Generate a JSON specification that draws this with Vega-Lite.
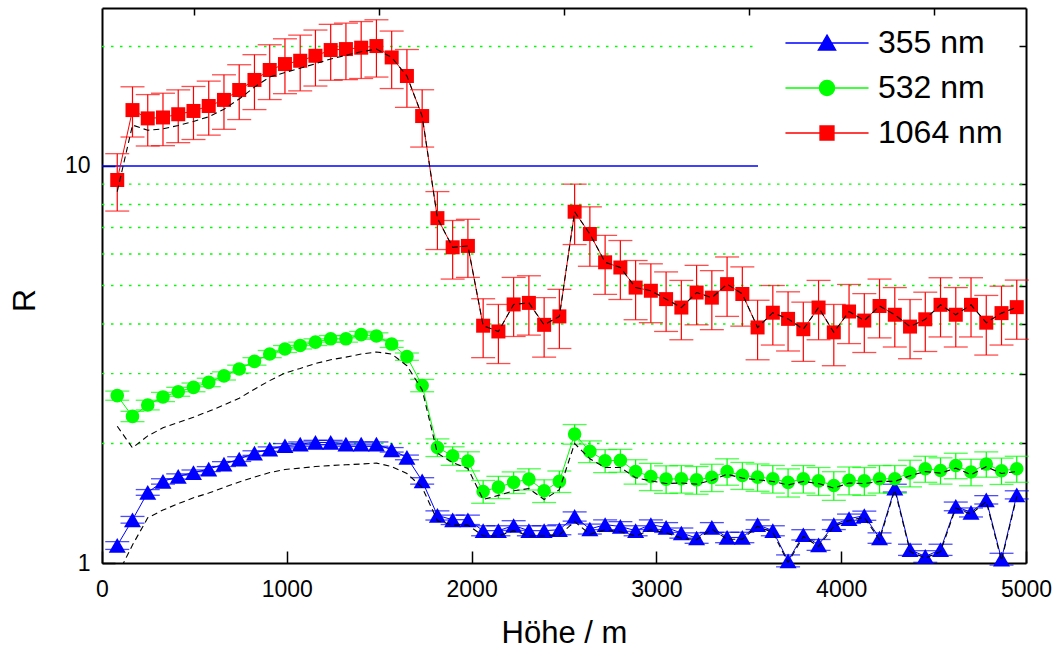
{
  "$schema": "https://vega.github.io/schema/vega-lite/v6.json",
  "width": 924,
  "height": 555,
  "autosize": {"type": "none"},
  "padding": {"left": 102, "top": 8, "right": 27, "bottom": 86},
  "background": "white",
  "config": {
    "font": "Liberation Sans",
    "view": {"stroke": null},
    "axis": {"grid": false, "labelColor": "black", "titleColor": "black", "tickColor": "black", "domainColor": "black"},
    "legend": {
      "orient": "none", "legendX": 709, "legendY": 19, "padding": 0,
      "labelFontSize": 32, "labelFont": "Liberation Sans", "labelColor": "black", "labelLimit": 400,
      "symbolSize": 900, "symbolStrokeWidth": 1.5, "symbolOpacity": 1, "labelOffset": 35, "rowPadding": 13
    }
  },
  "datasets": {
    "grid": [
      {"g": 2, "x1": 0, "x2": 4980}, {"g": 3, "x1": 0, "x2": 4980}, {"g": 4, "x1": 0, "x2": 4980},
      {"g": 5, "x1": 0, "x2": 4980}, {"g": 6, "x1": 0, "x2": 4980}, {"g": 7, "x1": 0, "x2": 4980},
      {"g": 8, "x1": 0, "x2": 4980}, {"g": 9, "x1": 0, "x2": 4980}, {"g": 20, "x1": 0, "x2": 3550}
    ],
    "ref": [{"g": 10, "x1": 0, "x2": 3550}],
    "pts": [
      {"s":"355 nm","x":82.5,"y":1.107,"e":0.025,"f":0.93},
      {"s":"355 nm","x":165,"y":1.285,"e":0.025,"f":1.11},
      {"s":"355 nm","x":247.5,"y":1.506,"e":0.025,"f":1.30},
      {"s":"355 nm","x":330,"y":1.605,"e":0.025,"f":1.36},
      {"s":"355 nm","x":412.5,"y":1.652,"e":0.025,"f":1.41},
      {"s":"355 nm","x":495,"y":1.69,"e":0.025,"f":1.46},
      {"s":"355 nm","x":577.5,"y":1.724,"e":0.025,"f":1.50},
      {"s":"355 nm","x":660,"y":1.775,"e":0.025,"f":1.55},
      {"s":"355 nm","x":742.5,"y":1.827,"e":0.025,"f":1.60},
      {"s":"355 nm","x":825,"y":1.892,"e":0.025,"f":1.645},
      {"s":"355 nm","x":907.5,"y":1.936,"e":0.025,"f":1.69},
      {"s":"355 nm","x":990,"y":1.974,"e":0.025,"f":1.72},
      {"s":"355 nm","x":1072.5,"y":1.993,"e":0.025,"f":1.734},
      {"s":"355 nm","x":1155,"y":2.012,"e":0.025,"f":1.75},
      {"s":"355 nm","x":1237.5,"y":2.012,"e":0.025,"f":1.76},
      {"s":"355 nm","x":1320,"y":1.993,"e":0.025,"f":1.768},
      {"s":"355 nm","x":1402.5,"y":1.993,"e":0.025,"f":1.775},
      {"s":"355 nm","x":1485,"y":1.993,"e":0.025,"f":1.785},
      {"s":"355 nm","x":1567.5,"y":1.928,"e":0.025,"f":1.75},
      {"s":"355 nm","x":1650,"y":1.845,"e":0.025,"f":1.68},
      {"s":"355 nm","x":1732.5,"y":1.61,"e":0.03,"f":1.55},
      {"s":"355 nm","x":1815,"y":1.318,"e":0.035,"f":1.278},
      {"s":"355 nm","x":1897.5,"y":1.285,"e":0.035,"f":1.246},
      {"s":"355 nm","x":1980,"y":1.285,"e":0.035,"f":1.246},
      {"s":"355 nm","x":2062.5,"y":1.206,"e":0.035,"f":1.170},
      {"s":"355 nm","x":2145,"y":1.206,"e":0.035,"f":1.170},
      {"s":"355 nm","x":2227.5,"y":1.243,"e":0.035,"f":1.206},
      {"s":"355 nm","x":2310,"y":1.206,"e":0.035,"f":1.170},
      {"s":"355 nm","x":2392.5,"y":1.206,"e":0.035,"f":1.170},
      {"s":"355 nm","x":2475,"y":1.213,"e":0.035,"f":1.177},
      {"s":"355 nm","x":2557.5,"y":1.31,"e":0.035,"f":1.271},
      {"s":"355 nm","x":2640,"y":1.218,"e":0.035,"f":1.181},
      {"s":"355 nm","x":2722.5,"y":1.249,"e":0.035,"f":1.212},
      {"s":"355 nm","x":2805,"y":1.236,"e":0.035,"f":1.199},
      {"s":"355 nm","x":2887.5,"y":1.206,"e":0.035,"f":1.170},
      {"s":"355 nm","x":2970,"y":1.249,"e":0.035,"f":1.212},
      {"s":"355 nm","x":3052.5,"y":1.229,"e":0.035,"f":1.192},
      {"s":"355 nm","x":3135,"y":1.19,"e":0.035,"f":1.154},
      {"s":"355 nm","x":3217.5,"y":1.156,"e":0.035,"f":1.144},
      {"s":"355 nm","x":3300,"y":1.229,"e":0.035,"f":1.217},
      {"s":"355 nm","x":3382.5,"y":1.16,"e":0.035,"f":1.148},
      {"s":"355 nm","x":3465,"y":1.16,"e":0.035,"f":1.148},
      {"s":"355 nm","x":3547.5,"y":1.249,"e":0.035,"f":1.237},
      {"s":"355 nm","x":3630,"y":1.206,"e":0.035,"f":1.194},
      {"s":"355 nm","x":3712.5,"y":1.013,"e":0.035,"f":1.003},
      {"s":"355 nm","x":3795,"y":1.178,"e":0.035,"f":1.166},
      {"s":"355 nm","x":3877.5,"y":1.111,"e":0.035,"f":1.100},
      {"s":"355 nm","x":3960,"y":1.249,"e":0.035,"f":1.237},
      {"s":"355 nm","x":4042.5,"y":1.293,"e":0.035,"f":1.280},
      {"s":"355 nm","x":4125,"y":1.316,"e":0.035,"f":1.303},
      {"s":"355 nm","x":4207.5,"y":1.156,"e":0.035,"f":1.144},
      {"s":"355 nm","x":4290,"y":1.544,"e":0.035,"f":1.529},
      {"s":"355 nm","x":4372.5,"y":1.08,"e":0.035,"f":1.069},
      {"s":"355 nm","x":4455,"y":1.039,"e":0.035,"f":1.029},
      {"s":"355 nm","x":4537.5,"y":1.08,"e":0.035,"f":1.069},
      {"s":"355 nm","x":4620,"y":1.389,"e":0.035,"f":1.375},
      {"s":"355 nm","x":4702.5,"y":1.341,"e":0.035,"f":1.328},
      {"s":"355 nm","x":4785,"y":1.443,"e":0.035,"f":1.429},
      {"s":"355 nm","x":4867.5,"y":1.023,"e":0.035,"f":1.013},
      {"s":"355 nm","x":4950,"y":1.485,"e":0.035,"f":1.470},
      {"s":"532 nm","x":82.5,"y":2.64,"e":0.07,"f":2.21},
      {"s":"532 nm","x":165,"y":2.34,"e":0.07,"f":1.95},
      {"s":"532 nm","x":247.5,"y":2.50,"e":0.07,"f":2.09},
      {"s":"532 nm","x":330,"y":2.62,"e":0.07,"f":2.19},
      {"s":"532 nm","x":412.5,"y":2.70,"e":0.07,"f":2.26},
      {"s":"532 nm","x":495,"y":2.77,"e":0.07,"f":2.33},
      {"s":"532 nm","x":577.5,"y":2.85,"e":0.07,"f":2.41},
      {"s":"532 nm","x":660,"y":2.96,"e":0.07,"f":2.50},
      {"s":"532 nm","x":742.5,"y":3.08,"e":0.07,"f":2.60},
      {"s":"532 nm","x":825,"y":3.22,"e":0.07,"f":2.74},
      {"s":"532 nm","x":907.5,"y":3.36,"e":0.07,"f":2.88},
      {"s":"532 nm","x":990,"y":3.46,"e":0.07,"f":3.01},
      {"s":"532 nm","x":1072.5,"y":3.53,"e":0.07,"f":3.09},
      {"s":"532 nm","x":1155,"y":3.60,"e":0.07,"f":3.18},
      {"s":"532 nm","x":1237.5,"y":3.67,"e":0.07,"f":3.25},
      {"s":"532 nm","x":1320,"y":3.67,"e":0.07,"f":3.30},
      {"s":"532 nm","x":1402.5,"y":3.76,"e":0.07,"f":3.36},
      {"s":"532 nm","x":1485,"y":3.73,"e":0.07,"f":3.40},
      {"s":"532 nm","x":1567.5,"y":3.56,"e":0.07,"f":3.36},
      {"s":"532 nm","x":1650,"y":3.31,"e":0.07,"f":3.14},
      {"s":"532 nm","x":1732.5,"y":2.80,"e":0.1,"f":2.73},
      {"s":"532 nm","x":1815,"y":1.954,"e":0.1,"f":1.89},
      {"s":"532 nm","x":1897.5,"y":1.862,"e":0.1,"f":1.79},
      {"s":"532 nm","x":1980,"y":1.806,"e":0.1,"f":1.73},
      {"s":"532 nm","x":2062.5,"y":1.514,"e":0.1,"f":1.445},
      {"s":"532 nm","x":2145,"y":1.553,"e":0.1,"f":1.48},
      {"s":"532 nm","x":2227.5,"y":1.596,"e":0.1,"f":1.52},
      {"s":"532 nm","x":2310,"y":1.627,"e":0.1,"f":1.54},
      {"s":"532 nm","x":2392.5,"y":1.52,"e":0.1,"f":1.445},
      {"s":"532 nm","x":2475,"y":1.605,"e":0.1,"f":1.53},
      {"s":"532 nm","x":2557.5,"y":2.112,"e":0.12,"f":2.0},
      {"s":"532 nm","x":2640,"y":1.91,"e":0.12,"f":1.83},
      {"s":"532 nm","x":2722.5,"y":1.81,"e":0.12,"f":1.74},
      {"s":"532 nm","x":2805,"y":1.813,"e":0.12,"f":1.74},
      {"s":"532 nm","x":2887.5,"y":1.70,"e":0.12,"f":1.64},
      {"s":"532 nm","x":2970,"y":1.652,"e":0.13,"f":1.61},
      {"s":"532 nm","x":3052.5,"y":1.627,"e":0.13,"f":1.586},
      {"s":"532 nm","x":3135,"y":1.63,"e":0.13,"f":1.59},
      {"s":"532 nm","x":3217.5,"y":1.62,"e":0.13,"f":1.58},
      {"s":"532 nm","x":3300,"y":1.643,"e":0.13,"f":1.615},
      {"s":"532 nm","x":3382.5,"y":1.70,"e":0.13,"f":1.673},
      {"s":"532 nm","x":3465,"y":1.662,"e":0.13,"f":1.636},
      {"s":"532 nm","x":3547.5,"y":1.646,"e":0.13,"f":1.62},
      {"s":"532 nm","x":3630,"y":1.63,"e":0.13,"f":1.605},
      {"s":"532 nm","x":3712.5,"y":1.596,"e":0.13,"f":1.572},
      {"s":"532 nm","x":3795,"y":1.63,"e":0.13,"f":1.605},
      {"s":"532 nm","x":3877.5,"y":1.61,"e":0.13,"f":1.585},
      {"s":"532 nm","x":3960,"y":1.568,"e":0.13,"f":1.544},
      {"s":"532 nm","x":4042.5,"y":1.615,"e":0.13,"f":1.59},
      {"s":"532 nm","x":4125,"y":1.61,"e":0.13,"f":1.585},
      {"s":"532 nm","x":4207.5,"y":1.63,"e":0.13,"f":1.605},
      {"s":"532 nm","x":4290,"y":1.63,"e":0.13,"f":1.605},
      {"s":"532 nm","x":4372.5,"y":1.685,"e":0.13,"f":1.659},
      {"s":"532 nm","x":4455,"y":1.727,"e":0.13,"f":1.70},
      {"s":"532 nm","x":4537.5,"y":1.71,"e":0.13,"f":1.684},
      {"s":"532 nm","x":4620,"y":1.76,"e":0.13,"f":1.733},
      {"s":"532 nm","x":4702.5,"y":1.695,"e":0.13,"f":1.669},
      {"s":"532 nm","x":4785,"y":1.775,"e":0.13,"f":1.748},
      {"s":"532 nm","x":4867.5,"y":1.707,"e":0.13,"f":1.681},
      {"s":"532 nm","x":4950,"y":1.727,"e":0.13,"f":1.70},
      {"s":"1064 nm","x":82.5,"y":9.22,"e":1.52,"f":8.62},
      {"s":"1064 nm","x":165,"y":13.83,"e":2.0,"f":12.68},
      {"s":"1064 nm","x":247.5,"y":13.18,"e":1.95,"f":12.3},
      {"s":"1064 nm","x":330,"y":13.25,"e":2.0,"f":12.4},
      {"s":"1064 nm","x":412.5,"y":13.5,"e":2.05,"f":12.65},
      {"s":"1064 nm","x":495,"y":13.76,"e":2.1,"f":12.95},
      {"s":"1064 nm","x":577.5,"y":14.16,"e":2.2,"f":13.3},
      {"s":"1064 nm","x":660,"y":14.67,"e":2.3,"f":13.9},
      {"s":"1064 nm","x":742.5,"y":15.54,"e":2.45,"f":14.75},
      {"s":"1064 nm","x":825,"y":16.47,"e":2.6,"f":15.8},
      {"s":"1064 nm","x":907.5,"y":17.45,"e":2.75,"f":16.75},
      {"s":"1064 nm","x":990,"y":18.06,"e":2.85,"f":17.2},
      {"s":"1064 nm","x":1072.5,"y":18.41,"e":2.95,"f":17.63},
      {"s":"1064 nm","x":1155,"y":18.95,"e":3.05,"f":18.1},
      {"s":"1064 nm","x":1237.5,"y":19.59,"e":3.15,"f":18.6},
      {"s":"1064 nm","x":1320,"y":19.7,"e":3.2,"f":19.0},
      {"s":"1064 nm","x":1402.5,"y":19.86,"e":3.25,"f":19.4},
      {"s":"1064 nm","x":1485,"y":20.05,"e":3.3,"f":19.7},
      {"s":"1064 nm","x":1567.5,"y":18.77,"e":3.1,"f":18.77},
      {"s":"1064 nm","x":1650,"y":16.85,"e":2.8,"f":16.85},
      {"s":"1064 nm","x":1732.5,"y":13.36,"e":2.2,"f":13.36},
      {"s":"1064 nm","x":1815,"y":7.39,"e":1.23,"f":7.39},
      {"s":"1064 nm","x":1897.5,"y":6.24,"e":1.05,"f":6.24},
      {"s":"1064 nm","x":1980,"y":6.29,"e":1.05,"f":6.29},
      {"s":"1064 nm","x":2062.5,"y":3.96,"e":0.67,"f":3.96},
      {"s":"1064 nm","x":2145,"y":3.83,"e":0.65,"f":3.83},
      {"s":"1064 nm","x":2227.5,"y":4.48,"e":0.76,"f":4.48},
      {"s":"1064 nm","x":2310,"y":4.52,"e":0.77,"f":4.52},
      {"s":"1064 nm","x":2392.5,"y":3.98,"e":0.68,"f":3.98},
      {"s":"1064 nm","x":2475,"y":4.18,"e":0.71,"f":4.18},
      {"s":"1064 nm","x":2557.5,"y":7.67,"e":1.33,"f":7.67},
      {"s":"1064 nm","x":2640,"y":6.74,"e":1.15,"f":6.74},
      {"s":"1064 nm","x":2722.5,"y":5.72,"e":0.97,"f":5.72},
      {"s":"1064 nm","x":2805,"y":5.55,"e":0.94,"f":5.55},
      {"s":"1064 nm","x":2887.5,"y":4.94,"e":0.84,"f":4.94},
      {"s":"1064 nm","x":2970,"y":4.85,"e":0.82,"f":4.85},
      {"s":"1064 nm","x":3052.5,"y":4.62,"e":0.79,"f":4.62},
      {"s":"1064 nm","x":3135,"y":4.40,"e":0.75,"f":4.40},
      {"s":"1064 nm","x":3217.5,"y":4.80,"e":0.82,"f":4.80},
      {"s":"1064 nm","x":3300,"y":4.66,"e":0.79,"f":4.66},
      {"s":"1064 nm","x":3382.5,"y":5.04,"e":0.86,"f":5.04},
      {"s":"1064 nm","x":3465,"y":4.76,"e":0.81,"f":4.76},
      {"s":"1064 nm","x":3547.5,"y":3.92,"e":0.67,"f":3.92},
      {"s":"1064 nm","x":3630,"y":4.27,"e":0.73,"f":4.27},
      {"s":"1064 nm","x":3712.5,"y":4.12,"e":0.7,"f":4.12},
      {"s":"1064 nm","x":3795,"y":3.88,"e":0.66,"f":3.88},
      {"s":"1064 nm","x":3877.5,"y":4.40,"e":0.75,"f":4.40},
      {"s":"1064 nm","x":3960,"y":3.81,"e":0.67,"f":3.81},
      {"s":"1064 nm","x":4042.5,"y":4.30,"e":0.73,"f":4.30},
      {"s":"1064 nm","x":4125,"y":4.08,"e":0.69,"f":4.08},
      {"s":"1064 nm","x":4207.5,"y":4.44,"e":0.75,"f":4.44},
      {"s":"1064 nm","x":4290,"y":4.22,"e":0.72,"f":4.22},
      {"s":"1064 nm","x":4372.5,"y":3.94,"e":0.67,"f":3.94},
      {"s":"1064 nm","x":4455,"y":4.11,"e":0.7,"f":4.11},
      {"s":"1064 nm","x":4537.5,"y":4.47,"e":0.76,"f":4.47},
      {"s":"1064 nm","x":4620,"y":4.22,"e":0.72,"f":4.22},
      {"s":"1064 nm","x":4702.5,"y":4.47,"e":0.76,"f":4.47},
      {"s":"1064 nm","x":4785,"y":4.03,"e":0.69,"f":4.03},
      {"s":"1064 nm","x":4867.5,"y":4.26,"e":0.72,"f":4.26},
      {"s":"1064 nm","x":4950,"y":4.41,"e":0.75,"f":4.41}
    ]
  },
  "layer": [
    {
      "data": {"name": "grid"},
      "mark": {"type": "rule", "stroke": "#00ff00", "strokeWidth": 1.4, "strokeDash": [2.5, 6.5]},
      "encoding": {
        "x": {"field": "x1", "type": "quantitative", "scale": {"domain": [0, 5000], "nice": false, "zero": false},
          "axis": {"values": [0, 1000, 2000, 3000, 4000, 5000], "format": "d", "tickSize": -12, "tickWidth": 1.5, "domainWidth": 2, "labelFontSize": 23, "labelPadding": 27, "labelFlush": false, "labelOverlap": false, "title": "Höhe / m", "titleFontSize": 31, "titleFontWeight": "normal", "titleY": 79, "titleX": 462, "titleBaseline": "alphabetic"}},
        "x2": {"field": "x2"},
        "y": {"field": "g", "type": "quantitative", "scale": {"type": "log", "domain": [1, 25], "nice": false},
          "axis": {"values": [1, 10], "format": "d", "tickSize": -13, "tickWidth": 1.5, "domainWidth": 2, "labelFontSize": 23, "labelPadding": 25, "labelFlush": false, "labelOverlap": false, "title": "R", "titleFontSize": 32, "titleFontWeight": "normal", "titleAngle": 270, "titleX": -68, "titleY": 292, "titleBaseline": "alphabetic", "titleAlign": "center"}}
      }
    },
    {
      "data": {"name": "ref"},
      "mark": {"type": "rule", "stroke": "#0000ff", "strokeWidth": 1.3},
      "encoding": {
        "x": {"field": "x1", "type": "quantitative", "scale": {"domain": [0, 5000], "nice": false, "zero": false},
          "axis": {"values": [500, 1500, 2500, 3500, 4500], "labels": false, "tickSize": -7, "tickWidth": 1.5, "domainWidth": 2, "title": null}},
        "x2": {"field": "x2"},
        "y": {"field": "g", "type": "quantitative", "scale": {"type": "log", "domain": [1, 25], "nice": false},
          "axis": {"values": [2, 3, 4, 5, 6, 7, 8, 9, 20], "labels": false, "tickSize": -7, "tickWidth": 1.5, "domainWidth": 2, "title": null}}
      }
    },
    {
      "data": {"name": "pts"},
      "transform": [{"filter": "datum.x < 0"}],
      "mark": {"type": "point", "filled": true, "opacity": 1},
      "encoding": {
        "x": {"field": "x", "type": "quantitative", "scale": {"domain": [0, 5000], "nice": false, "zero": false}, "axis": null},
        "y": {"field": "y", "type": "quantitative", "scale": {"type": "log", "domain": [1, 25], "nice": false}, "axis": null},
        "color": {"field": "s", "type": "nominal", "title": null, "scale": {"domain": ["355 nm", "532 nm", "1064 nm"], "range": ["#0000ff", "#00ff00", "#ff0000"]}},
        "stroke": {"field": "s", "type": "nominal", "title": null, "scale": {"domain": ["355 nm", "532 nm", "1064 nm"], "range": ["#6f6fff", "#00ff00", "#ff0000"]}},
        "shape": {"field": "s", "type": "nominal", "title": null, "scale": {"domain": ["355 nm", "532 nm", "1064 nm"], "range": ["M-2.77,0H2.77M0,-0.52L0.567,0.46L-0.567,0.46Z", "M-2.77,0H2.77M-0.5,0A0.5,0.5,0,1,1,0.5,0A0.5,0.5,0,1,1,-0.5,0Z", "M-2.77,0H2.77M-0.46,-0.46H0.46V0.46H-0.46Z"]}}
      }
    },
    {
      "data": {"name": "pts"},
      "mark": {"type": "errorbar", "ticks": {"size": 24, "thickness": 1.3}, "rule": {"strokeWidth": 1.2}},
      "encoding": {
        "x": {"field": "x", "type": "quantitative", "scale": {"domain": [0, 5000], "nice": false, "zero": false}, "axis": null},
        "y": {"field": "y", "type": "quantitative", "scale": {"type": "log", "domain": [1, 25], "nice": false}, "axis": null},
        "yError": {"field": "e"},
        "color": {"field": "s", "type": "nominal", "title": null, "scale": {"domain": ["355 nm", "532 nm", "1064 nm"], "range": ["#0000ff", "#00ff00", "#ff0000"]}}
      }
    },
    {
      "data": {"name": "pts"},
      "mark": {"type": "line", "strokeWidth": 1},
      "encoding": {
        "x": {"field": "x", "type": "quantitative", "scale": {"domain": [0, 5000], "nice": false, "zero": false}, "axis": null},
        "y": {"field": "y", "type": "quantitative", "scale": {"type": "log", "domain": [1, 25], "nice": false}, "axis": null},
        "color": {"field": "s", "type": "nominal", "title": null, "scale": {"domain": ["355 nm", "532 nm", "1064 nm"], "range": ["#0000ff", "#00ff00", "#ff0000"]}}
      }
    },
    {
      "data": {"name": "pts"},
      "transform": [{"filter": "datum.s === '355 nm'"}],
      "mark": {"type": "point", "filled": true, "opacity": 1, "shape": "triangle-up", "size": 289},
      "encoding": {
        "x": {"field": "x", "type": "quantitative", "scale": {"domain": [0, 5000], "nice": false, "zero": false}, "axis": null},
        "y": {"field": "y", "type": "quantitative", "scale": {"type": "log", "domain": [1, 25], "nice": false}, "axis": null},
        "color": {"field": "s", "type": "nominal", "title": null, "scale": {"domain": ["355 nm", "532 nm", "1064 nm"], "range": ["#0000ff", "#00ff00", "#ff0000"]}}
      }
    },
    {
      "data": {"name": "pts"},
      "transform": [{"filter": "datum.s === '532 nm'"}],
      "mark": {"type": "point", "filled": true, "opacity": 1, "shape": "circle", "size": 185},
      "encoding": {
        "x": {"field": "x", "type": "quantitative", "scale": {"domain": [0, 5000], "nice": false, "zero": false}, "axis": null},
        "y": {"field": "y", "type": "quantitative", "scale": {"type": "log", "domain": [1, 25], "nice": false}, "axis": null},
        "color": {"field": "s", "type": "nominal", "title": null, "scale": {"domain": ["355 nm", "532 nm", "1064 nm"], "range": ["#0000ff", "#00ff00", "#ff0000"]}}
      }
    },
    {
      "data": {"name": "pts"},
      "transform": [{"filter": "datum.s === '1064 nm'"}],
      "mark": {"type": "point", "filled": true, "opacity": 1, "shape": "square", "size": 196},
      "encoding": {
        "x": {"field": "x", "type": "quantitative", "scale": {"domain": [0, 5000], "nice": false, "zero": false}, "axis": null},
        "y": {"field": "y", "type": "quantitative", "scale": {"type": "log", "domain": [1, 25], "nice": false}, "axis": null},
        "color": {"field": "s", "type": "nominal", "title": null, "scale": {"domain": ["355 nm", "532 nm", "1064 nm"], "range": ["#0000ff", "#00ff00", "#ff0000"]}}
      }
    },
    {
      "data": {"name": "pts"},
      "mark": {"type": "line", "stroke": "black", "strokeWidth": 1.1, "strokeDash": [6, 4], "clip": true},
      "encoding": {
        "x": {"field": "x", "type": "quantitative", "scale": {"domain": [0, 5000], "nice": false, "zero": false}, "axis": null},
        "y": {"field": "f", "type": "quantitative", "scale": {"type": "log", "domain": [1, 25], "nice": false}, "axis": null},
        "detail": {"field": "s", "type": "nominal"}
      }
    }
  ],
  "resolve": {"axis": {"x": "independent", "y": "independent"}}
}
